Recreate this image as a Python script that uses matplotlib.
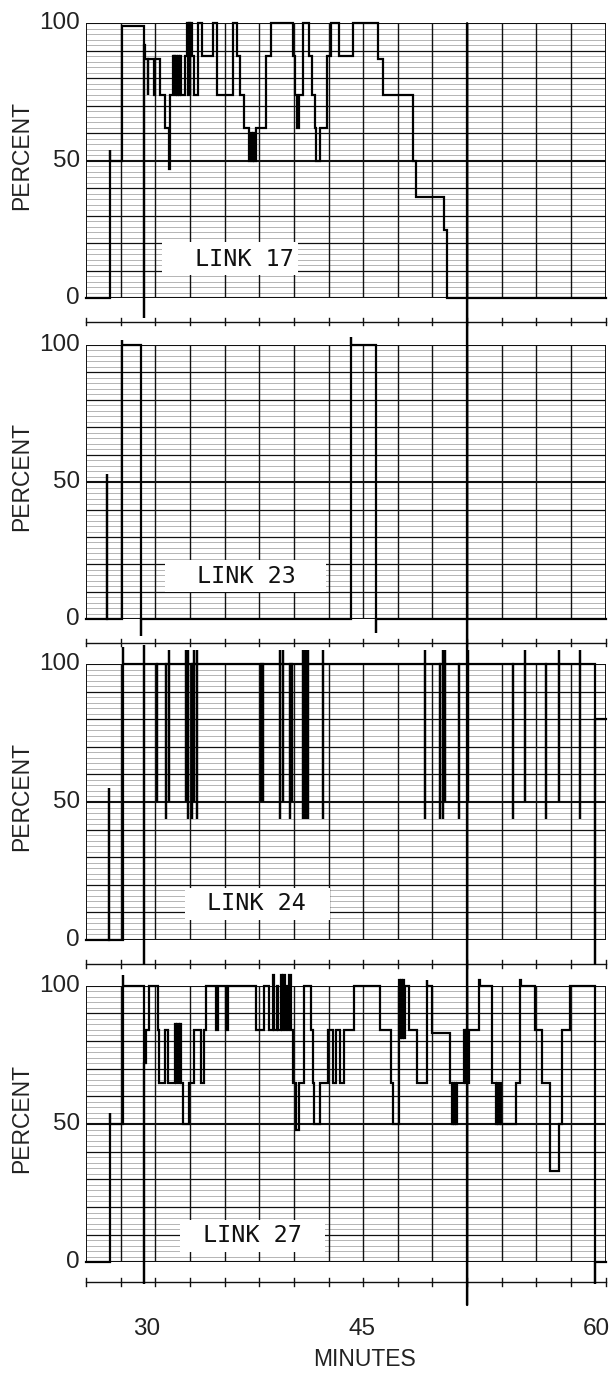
"""Strip-chart recordings of link utilisation (percent) against time, four links."""

import matplotlib

matplotlib.use("Agg")

import matplotlib.pyplot as plt
from matplotlib.patches import ConnectionPatch, Rectangle


# ---- data (x in chart-grid units, 15 divisions across; y in percent) ----
LINK_NAMES = ["LINK 17", "LINK 23", "LINK 24", "LINK 27"]

Y_TICKS = [0, 50, 100]
Y_TICK_LABELS = ["0", "50", "100"]
X_TICKS = [1.75, 7.96, 14.73]
X_TICK_LABELS = ["30", "45", "60"]
X_LABEL = "MINUTES"
Y_LABEL = "PERCENT"

# each trace: times where the pen jumps, and the level it jumps to
link17_t = [0, 0.69, 0.69, 1.03, 1.66, 1.68, 1.70, 1.78, 1.80, 1.97, 1.99, 2.14,
            2.28, 2.41, 2.43, 2.50, 2.53, 2.55, 2.58, 2.60, 2.63, 2.65, 2.68, 2.70,
            2.75, 2.85, 2.91, 2.94, 2.96, 2.99, 3.01, 3.05, 3.12, 3.24, 3.34, 3.66,
            3.77, 4.25, 4.36, 4.45, 4.55, 4.70, 4.74, 4.78, 4.82, 4.86, 4.92, 5.20,
            5.33, 5.97, 6.02, 6.08, 6.14, 6.27, 6.45, 6.53, 6.60, 6.65, 6.76, 6.95,
            7.07, 7.30, 7.70, 8.43, 8.58, 9.43, 9.53, 10.33, 10.42]
link17_v = [0, 54, 50, 99, -7, 92, 87, 74, 87, 74, 87, 74,
            62, 47, 74, 88, 74, 88, 74, 88, 74, 88, 74, 88,
            74, 88, 100, 74, 100, 74, 100, 88, 74, 100, 88, 100,
            74, 100, 88, 74, 62, 50, 60, 50, 60, 50, 62, 88,
            100, 88, 74, 62, 74, 100, 88, 74, 62, 50, 62, 88,
            100, 88, 100, 87, 74, 50, 37, 25, 0]

link23_t = [0, 0.61, 0.61, 1.03, 1.03, 1.60, 1.60, 7.64, 7.64, 8.38, 8.38]
link23_v = [0, 53, 0, 102, 100, -6, 0, 103, 100, -5, 0]

link24_t = [0, 0.67, 0.67, 1.06, 1.06, 1.67, 1.67, 1.67]
link24_v = [0, 55, 0, 106, 100, 107, -9, 100]
link24_spike_t = [2.06, 2.31, 2.41, 2.89, 2.95, 3.05, 3.12, 3.20, 5.05, 5.10,
                  5.60, 5.70, 5.89, 5.95, 6.25, 6.29, 6.33, 6.37, 6.41, 6.85,
                  9.79, 10.22, 10.30, 10.37, 10.77, 11.02, 12.31, 12.67, 13.27,
                  13.65, 14.26]
link24_spike_hi = [100, 100, 105, 105, 105, 100, 105, 105, 100, 100,
                   105, 105, 100, 100, 105, 105, 105, 105, 105, 105,
                   105, 100, 105, 105, 100, 105, 100, 105, 100,
                   105, 105]
link24_spike_lo = [50, 44, 50, 50, 44, 44, 50, 44, 50, 50,
                   44, 50, 44, 50, 44, 44, 44, 44, 44, 44,
                   44, 44, 44, 50, 44, 50, 44, 50, 44,
                   50, 44]
link24_end_t = [14.69, 14.69]
link24_end_v = [-9, 80]

link27_t = [0, 0.69, 0.69, 1.06, 1.06, 1.67, 1.67, 1.73, 1.83, 2.07, 2.12, 2.29,
            2.36, 2.58, 2.61, 2.64, 2.67, 2.70, 2.73, 2.80, 2.98, 3.13, 3.32, 3.42,
            3.47, 3.75, 3.80, 4.04, 4.09, 4.91, 5.15, 5.29, 5.39, 5.43, 5.50, 5.55,
            5.62, 5.66, 5.70, 5.74, 5.78, 5.83, 5.87, 5.92, 5.97, 6.06, 6.16, 6.30,
            6.49, 6.54, 6.59, 6.74, 6.98, 7.12, 7.22, 7.33, 7.44, 7.73, 8.50, 8.79,
            8.87, 9.02, 9.05, 9.08, 9.11, 9.14, 9.17, 9.20, 9.32, 9.56, 9.83, 9.85,
            9.98, 10.50, 10.57, 10.60, 10.63, 10.66, 10.69, 10.71, 10.90, 10.94,
            10.98, 11.02, 11.06, 11.34, 11.36, 11.72, 11.82, 11.86, 11.90, 11.94,
            11.98, 12.40, 12.54, 12.56, 12.97, 13.16, 13.40, 13.64, 13.74, 13.98,
            14.70, 14.70]
link27_v = [0, 54, 50, 104, 100, -8, 72, 84, 100, 84, 65, 84,
            65, 86, 65, 86, 65, 86, 65, 50, 65, 84, 65, 84,
            100, 84, 100, 84, 100, 84, 100, 84, 104, 84, 100, 84,
            104, 84, 104, 84, 100, 84, 104, 84, 65, 48, 65, 100,
            84, 65, 50, 65, 84, 65, 84, 65, 84, 100, 84, 65,
            50, 102, 81, 102, 81, 102, 81, 100, 84, 65, 102, 100,
            83, 65, 50, 65, 50, 65, 50, 65, 84, 65,
            84, 65, 84, 102, 100, 65, 50, 65, 50, 65,
            50, 65, 102, 100, 84, 65, 33, 50, 84, 100,
            -8, 0]

X_END = 15
N_DIV = 15

# ---- layout (pixels of the 613 x 1374 page) ----
FIG_W, FIG_H = 613, 1374
PANEL_LEFT, PANEL_RIGHT = 86, 605.7
PANEL_TOP = [23.3, 345.0, 664.0, 985.7]       # pixel row of the 100 line
PANEL_BOTTOM = [298.3, 619.3, 940.0, 1262.3]  # pixel row of the 0 line
TICK_ROW = [-8.5, -8.5, -8.7, -7.1]           # percent below zero
LABEL_BOX = [(2.19, 8.4, 6.12, 20.4), (2.28, 10.0, 6.92, 21.7),
             (2.86, 7.2, 7.04, 18.7), (2.71, 3.8, 6.90, 15.3)]
LABEL_POS = [(4.56, 14.0), (4.64, 15.5), (4.93, 13.3), (4.81, 9.6)]
MARK_X = 11

NUM_FONT = ["Liberation Sans", "DejaVu Sans"]
MONO_FONT = ["DejaVu Sans Mono"]


def spikes_to_events(times, values, spike_t, spike_hi, spike_lo, base, end_t, end_v):
    """Append base-level spikes (up to hi, down to lo, back to base) to an event list."""
    t = list(times)
    v = list(values)
    for s, hi, lo in zip(spike_t, spike_hi, spike_lo):
        t += [s, s, s]
        v += [hi, lo, base]
    return t + list(end_t), v + list(end_v)


def step_xy(times, values, end):
    """Turn pen-jump events into a stair-step polyline."""
    xs, ys = [times[0]], [values[0]]
    for i in range(1, len(times)):
        xs += [times[i], times[i]]
        ys += [values[i - 1], values[i]]
    xs.append(end)
    ys.append(values[-1])
    return xs, ys


def draw_grid(ax, tick_row):
    for pct in range(0, 101, 2):
        if pct % 10:
            ax.plot([0, X_END], [pct, pct], color="#a0a0a0", lw=0.55, zorder=1)
    for pct in range(0, 101, 10):
        heavy = pct in (0, 50, 100)
        ax.plot([0, X_END], [pct, pct], color="#111111",
                lw=1.5 if heavy else 0.9, zorder=2)
    for g in range(N_DIV + 1):
        ax.plot([g, g], [0, 100], color="#111111",
                lw=1.4 if g in (0, N_DIV) else 1.0, zorder=2)
    # time-mark row under the panel
    ax.plot([0, X_END], [tick_row, tick_row], color="#111111", lw=1.0,
            clip_on=False, zorder=2)
    for g in range(N_DIV + 1):
        ax.plot([g, g], [tick_row - 1.3, tick_row + 1.3], color="#111111",
                lw=1.0, clip_on=False, zorder=2)


def main():
    fig = plt.figure(figsize=(FIG_W / 100, FIG_H / 100), dpi=100)
    fig.patch.set_facecolor("white")

    link24_t_all, link24_v_all = spikes_to_events(
        link24_t, link24_v, link24_spike_t, link24_spike_hi, link24_spike_lo,
        100, link24_end_t, link24_end_v)
    traces = [(link17_t, link17_v), (link23_t, link23_v),
              (link24_t_all, link24_v_all), (link27_t, link27_v)]

    axes = []
    for i, (times, values) in enumerate(traces):
        top, bottom = PANEL_TOP[i], PANEL_BOTTOM[i]
        ax = fig.add_axes([PANEL_LEFT / FIG_W, 1 - bottom / FIG_H,
                           (PANEL_RIGHT - PANEL_LEFT) / FIG_W, (bottom - top) / FIG_H])
        ax.set_xlim(0, X_END)
        ax.set_ylim(0, 100)
        ax.axis("off")
        draw_grid(ax, TICK_ROW[i])

        x0, y0, x1, y1 = LABEL_BOX[i]
        ax.add_patch(Rectangle((x0, y0), x1 - x0, y1 - y0, facecolor="white",
                               edgecolor="none", zorder=3))
        lx, ly = LABEL_POS[i]
        ax.text(lx, ly, LINK_NAMES[i], family=MONO_FONT, fontsize=16.8,
                ha="center", va="center", color="#111111", zorder=4)

        xs, ys = step_xy(times, values, X_END)
        ax.plot(xs, ys, color="black", lw=1.6, clip_on=False, zorder=5,
                solid_joinstyle="miter")

        for val, lab in zip(Y_TICKS, Y_TICK_LABELS):
            ax.text(-0.17, val, lab, family=NUM_FONT, fontsize=17.5,
                    ha="right", va="center", color="#222222")
        ax.text(-1.85, 52, Y_LABEL, family=NUM_FONT, fontsize=16.5,
                rotation=90, ha="center", va="center", color="#222222")
        axes.append(ax)

    bottom_ax = axes[-1]
    for pos, lab in zip(X_TICKS, X_TICK_LABELS):
        bottom_ax.text(pos, -24.1, lab, family=NUM_FONT, fontsize=17.5,
                       ha="center", va="center", color="#222222")
    bottom_ax.text(8.05, -35.3, X_LABEL, family=NUM_FONT, fontsize=16.5,
                   ha="center", va="center", color="#222222")

    # event marker drawn straight through all four records
    mark = ConnectionPatch(xyA=(MARK_X, 100), coordsA=axes[0].transData,
                           xyB=(MARK_X, -15.4), coordsB=bottom_ax.transData,
                           color="black", lw=1.8, zorder=6)
    fig.add_artist(mark)

    fig.savefig("out.png", dpi=100, facecolor="white")
    plt.close(fig)


if __name__ == "__main__":
    main()
